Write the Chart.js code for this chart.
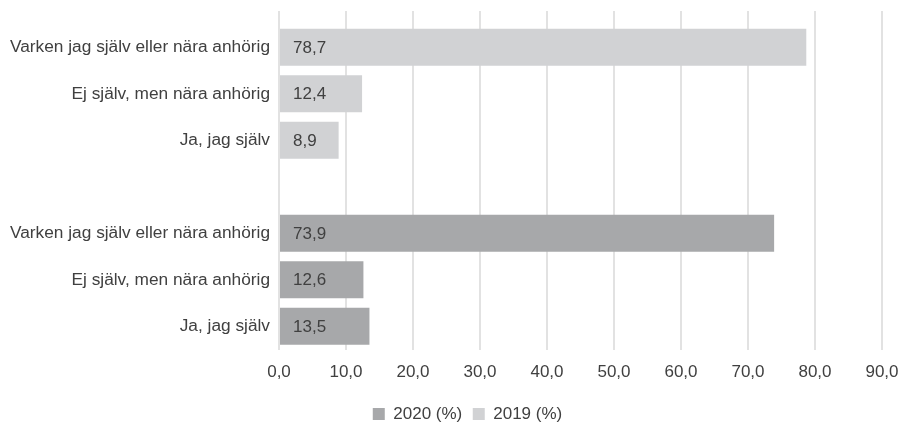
<!DOCTYPE html>
<html lang="sv">
<head>
<meta charset="utf-8">
<title>Anhörig – 2019 och 2020</title>
<script src="https://cdn.jsdelivr.net/npm/chart.js@4"></script>
<style>
  html, body { margin: 0; padding: 0; background: #ffffff; }
  #wrap { width: 901px; height: 423px; position: relative; }
</style>
</head>
<body>
<div id="wrap"><canvas id="chart"></canvas></div>
<script>
// Rows from top to bottom; the empty row separates the two years.
const categories = [
  'Varken jag själv eller nära anhörig',
  'Ej själv, men nära anhörig',
  'Ja, jag själv',
  '',
  'Varken jag själv eller nära anhörig',
  'Ej själv, men nära anhörig',
  'Ja, jag själv'
];
const seriesNames = ['2020 (%)', '2019 (%)'];
const values2020 = [null, null, null, null, 73.9, 12.6, 13.5];
const values2019 = [78.7, 12.4, 8.9, null, null, null, null];
const axisMin = 0;
const axisMax = 90;
const axisStep = 10;

const FONT = "'Liberation Sans', Arial, Helvetica, sans-serif";
const TEXT = '#404040';
const GRID = '#e2e2e2';

const fmt = v => Number(v).toFixed(1).replace('.', ',');

// Value written inside each bar, just right of its base.
const barValueLabels = {
  id: 'barValueLabels',
  afterDatasetsDraw(chart) {
    const ctx = chart.ctx;
    ctx.save();
    ctx.font = '17px ' + FONT;
    ctx.fillStyle = TEXT;
    ctx.textAlign = 'left';
    ctx.textBaseline = 'middle';
    chart.data.datasets.forEach((ds, di) => {
      const meta = chart.getDatasetMeta(di);
      meta.data.forEach((bar, i) => {
        const v = ds.data[i];
        if (v === null || v === undefined) return;
        ctx.fillText(fmt(v), bar.base + 13, bar.y + 1);
      });
    });
    ctx.restore();
  }
};

// Nudge the centred legend a little to the right.
const legendShift = {
  id: 'legendShift',
  afterLayout(chart) {
    const lg = chart.legend;
    if (!lg) return;
    lg.left += 17;
    lg.right += 17;
  }
};

new Chart(document.getElementById('chart'), {
  type: 'bar',
  data: {
    labels: categories,
    datasets: [
      { label: seriesNames[0], data: values2020, backgroundColor: '#a7a8aa', borderWidth: 0 },
      { label: seriesNames[1], data: values2019, backgroundColor: '#d1d2d4', borderWidth: 0 }
    ]
  },
  options: {
    indexAxis: 'y',
    responsive: true,
    maintainAspectRatio: false,
    animation: false,
    events: [],
    datasets: { bar: { categoryPercentage: 1.0, barPercentage: 0.8 } },
    layout: { padding: { top: 11, left: 0, right: 0, bottom: -9.5 } },
    scales: {
      x: {
        type: 'linear',
        position: 'bottom',
        stacked: true,
        min: axisMin,
        max: axisMax,
        border: { display: false },
        grid: { color: GRID, lineWidth: 2, drawTicks: false },
        ticks: {
          stepSize: axisStep,
          padding: 13,
          color: TEXT,
          font: { family: FONT, size: 17 },
          callback: v => fmt(v)
        },
        afterFit: scale => { scale.height = 45.5; scale.paddingRight = 19; }
      },
      xTop: {
        type: 'linear',
        position: 'top',
        min: axisMin,
        max: axisMax,
        border: { display: false },
        grid: { color: GRID, lineWidth: 2, drawOnChartArea: false, drawTicks: true, tickLength: 13 },
        ticks: { stepSize: axisStep, display: false }
      },
      y: {
        stacked: true,
        border: { display: false },
        grid: { display: false, drawTicks: false },
        ticks: {
          padding: 9,
          color: TEXT,
          font: { family: FONT, size: 17.3 }
        },
        afterFit: scale => { scale.width = 279; }
      }
    },
    plugins: {
      tooltip: { enabled: false },
      legend: {
        position: 'bottom',
        align: 'center',
        labels: {
          boxWidth: 12,
          boxHeight: 12,
          padding: 10.5,
          color: TEXT,
          font: { family: FONT, size: 17 }
        }
      }
    }
  },
  plugins: [barValueLabels, legendShift]
});
</script>
</body>
</html>
